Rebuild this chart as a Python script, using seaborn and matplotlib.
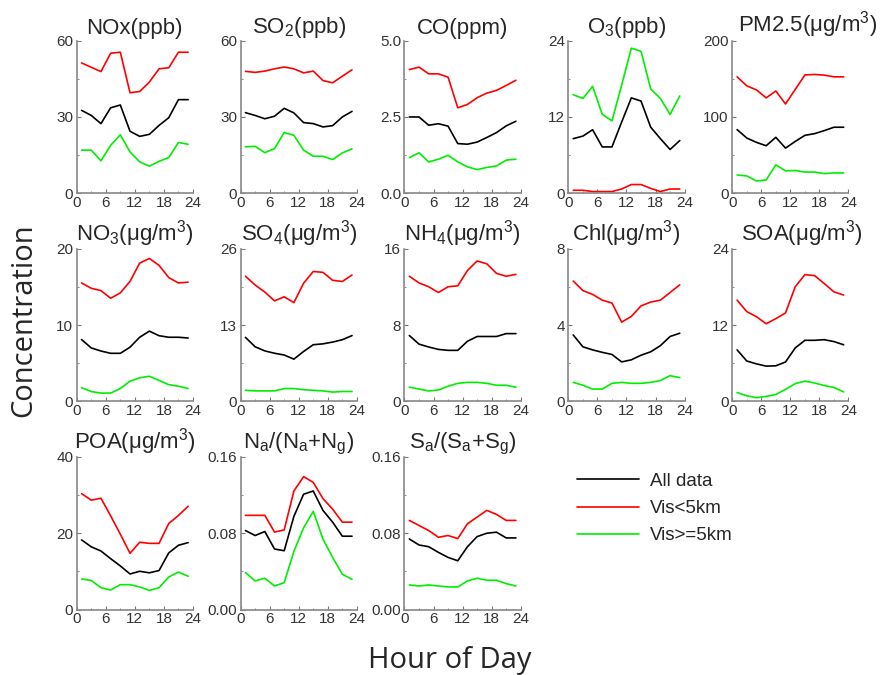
import matplotlib
matplotlib.use('Agg')
import matplotlib.pyplot as plt
import numpy as np
import pandas as pd
import seaborn as sns

# hours of day (2-hourly bins)
hours = [1, 3, 5, 7, 9, 11, 13, 15, 17, 19, 21, 23]
groups = ['All data', 'Vis<5km', 'Vis>=5km']

titles = ['NOx(ppb)', 'SO$_2$(ppb)', 'CO(ppm)', 'O$_3$(ppb)', 'PM2.5(μg/m$^3$)',
          'NO$_3$(μg/m$^3$)', 'SO$_4$(μg/m$^3$)', 'NH$_4$(μg/m$^3$)', 'Chl(μg/m$^3$)', 'SOA(μg/m$^3$)',
          'POA(μg/m$^3$)', 'N$_a$/(N$_a$+N$_g$)', 'S$_a$/(S$_a$+S$_g$)']
ymax = [60, 60, 5.0, 24, 200, 20, 26, 16, 8, 24, 40, 0.16, 0.16]
ytick_fmt = ['%d', '%d', '%.1f', '%d', '%d', '%d', '%d', '%d', '%d', '%d', '%d', '%.2f', '%.2f']

# All data / Vis<5km / Vis>=5km for each species
nox_all = [32.6, 30.6, 27.4, 33.6, 34.7, 24.4, 22.4, 23.2, 26.7, 29.7, 36.8, 36.8]
nox_low = [51.2, 49.5, 47.8, 55.0, 55.4, 39.5, 40.0, 43.7, 48.9, 49.3, 55.4, 55.4]
nox_high = [17.0, 17.0, 12.8, 18.9, 23.0, 16.3, 12.4, 10.7, 12.6, 14.1, 20.0, 19.3]

so2_all = [31.7, 30.6, 29.3, 30.3, 33.4, 31.6, 27.8, 27.4, 26.1, 26.6, 30.0, 32.2]
so2_low = [47.9, 47.5, 48.0, 48.9, 49.6, 48.9, 47.3, 48.0, 44.3, 43.4, 46.0, 48.5]
so2_high = [18.3, 18.5, 16.0, 17.6, 23.9, 22.8, 17.0, 14.6, 14.6, 13.3, 15.9, 17.5]

co_all = [2.50, 2.50, 2.23, 2.28, 2.20, 1.63, 1.61, 1.68, 1.83, 1.99, 2.21, 2.36]
co_low = [4.05, 4.13, 3.91, 3.91, 3.80, 2.80, 2.91, 3.13, 3.28, 3.37, 3.53, 3.70]
co_high = [1.17, 1.33, 1.03, 1.12, 1.25, 1.03, 0.87, 0.78, 0.85, 0.90, 1.09, 1.12]

o3_all = [8.6, 9.0, 10.0, 7.3, 7.3, 11.2, 15.0, 14.5, 10.4, 8.6, 6.9, 8.3]
o3_low = [0.5, 0.5, 0.3, 0.3, 0.3, 0.7, 1.4, 1.4, 0.8, 0.3, 0.7, 0.7]
o3_high = [15.5, 14.9, 16.8, 12.4, 11.4, 17.0, 22.8, 22.3, 16.4, 14.9, 12.4, 15.3]

pm_all = [83.5, 72.5, 66.8, 62.4, 73.4, 59.3, 68.0, 76.0, 78.2, 82.2, 86.6, 86.6]
pm_low = [152.5, 140.7, 135.4, 125.0, 134.0, 117.0, 136.0, 155.0, 155.6, 154.7, 152.5, 152.5]
pm_high = [24.2, 22.9, 16.3, 17.6, 37.4, 29.5, 30.0, 28.0, 28.0, 26.0, 26.8, 26.8]

no3_all = [8.1, 7.0, 6.6, 6.3, 6.3, 7.1, 8.4, 9.2, 8.6, 8.4, 8.4, 8.3]
no3_low = [15.5, 14.8, 14.5, 13.5, 14.2, 15.7, 18.1, 18.7, 17.8, 16.2, 15.5, 15.6]
no3_high = [1.8, 1.3, 1.1, 1.1, 1.7, 2.65, 3.1, 3.3, 2.75, 2.2, 2.0, 1.7]

so4_all = [10.9, 9.3, 8.6, 8.2, 7.9, 7.2, 8.5, 9.65, 9.8, 10.1, 10.5, 11.2]
so4_low = [21.3, 19.8, 18.6, 17.1, 17.8, 16.8, 20.1, 22.1, 21.95, 20.6, 20.4, 21.5]
so4_high = [1.9, 1.8, 1.8, 1.8, 2.2, 2.2, 2.0, 1.9, 1.8, 1.6, 1.7, 1.7]

nh4_all = [6.9, 6.0, 5.7, 5.45, 5.35, 5.35, 6.3, 6.8, 6.8, 6.8, 7.1, 7.1]
nh4_low = [13.1, 12.4, 12.0, 11.4, 12.0, 12.1, 13.7, 14.7, 14.4, 13.4, 13.1, 13.3]
nh4_high = [1.5, 1.3, 1.1, 1.2, 1.6, 1.9, 2.0, 2.0, 1.9, 1.7, 1.7, 1.5]

chl_all = [3.48, 2.86, 2.70, 2.57, 2.46, 2.07, 2.18, 2.42, 2.60, 2.92, 3.40, 3.57]
chl_low = [6.3, 5.8, 5.6, 5.3, 5.15, 4.15, 4.45, 5.0, 5.2, 5.3, 5.7, 6.1]
chl_high = [1.0, 0.85, 0.65, 0.65, 0.95, 1.0, 0.95, 0.95, 1.0, 1.1, 1.35, 1.25]

soa_all = [8.1, 6.35, 5.9, 5.55, 5.6, 6.2, 8.4, 9.6, 9.6, 9.7, 9.4, 8.9]
soa_low = [15.9, 14.1, 13.3, 12.2, 13.0, 13.9, 18.0, 19.9, 19.75, 18.5, 17.2, 16.7]
soa_high = [1.4, 0.9, 0.6, 0.8, 1.1, 1.9, 2.8, 3.2, 2.9, 2.5, 2.2, 1.5]

poa_all = [18.2, 16.4, 15.3, 13.3, 11.4, 9.3, 10.0, 9.6, 10.2, 14.8, 16.8, 17.5]
poa_low = [30.3, 28.6, 29.1, 24.5, 19.7, 14.7, 17.6, 17.3, 17.3, 22.5, 24.6, 27.0]
poa_high = [8.0, 7.6, 5.7, 5.1, 6.5, 6.5, 5.9, 5.0, 5.7, 8.5, 9.8, 8.7]

na_all = [0.0826, 0.0774, 0.0816, 0.0633, 0.0615, 0.0974, 0.1206, 0.124, 0.1037, 0.0914, 0.0767, 0.0767]
na_low = [0.0985, 0.0985, 0.0985, 0.081, 0.0833, 0.124, 0.139, 0.133, 0.116, 0.105, 0.0914, 0.0914]
na_high = [0.0387, 0.0299, 0.0327, 0.0246, 0.0281, 0.0608, 0.0854, 0.1027, 0.0738, 0.0545, 0.0369, 0.0316]

sa_all = [0.0738, 0.0675, 0.0657, 0.0598, 0.0545, 0.051, 0.0657, 0.0763, 0.0798, 0.0809, 0.0749, 0.0749]
sa_low = [0.0932, 0.0879, 0.0826, 0.0756, 0.0774, 0.0742, 0.0897, 0.0967, 0.1037, 0.0995, 0.0932, 0.0932]
sa_high = [0.0257, 0.0246, 0.0257, 0.0246, 0.0236, 0.0236, 0.0299, 0.0327, 0.0306, 0.0306, 0.0271, 0.0246]

series = [(nox_all, nox_low, nox_high), (so2_all, so2_low, so2_high), (co_all, co_low, co_high),
          (o3_all, o3_low, o3_high), (pm_all, pm_low, pm_high), (no3_all, no3_low, no3_high),
          (so4_all, so4_low, so4_high), (nh4_all, nh4_low, nh4_high), (chl_all, chl_low, chl_high),
          (soa_all, soa_low, soa_high), (poa_all, poa_low, poa_high), (na_all, na_low, na_high),
          (sa_all, sa_low, sa_high)]

sns.set_style('ticks')
plt.rcParams['font.family'] = ['Liberation Sans', 'DejaVu Sans']
plt.rcParams['mathtext.default'] = 'regular'
palette = {'All data': '#000000', 'Vis<5km': '#ff0000', 'Vis>=5km': '#00ee00'}

fig, axes = plt.subplots(3, 5, figsize=(8.82, 6.75), dpi=100)
fig.subplots_adjust(left=0.087, right=0.962, top=0.94, bottom=0.097, wspace=0.41, hspace=0.36)

# titles of the right column sit a bit to the right of the axes centre
title_x = {4: 0.65, 9: 0.6}

for i, ax in enumerate(axes.flat):
    if i >= len(series):
        ax.axis('off')
        continue
    rows = []
    for g, vals in zip(groups, series[i]):
        for h, v in zip(hours, vals):
            rows.append({'hour': h, 'value': v, 'group': g})
    df = pd.DataFrame(rows)
    sns.lineplot(data=df, x='hour', y='value', hue='group', palette=palette,
                 linewidth=1.2, ax=ax, legend=False)
    ax.set_xlim(0, 24)
    ax.set_ylim(0, ymax[i])
    ax.set_xticks([0, 6, 12, 18, 24])
    ax.set_xticks([3, 9, 15, 21], minor=True)
    ax.set_yticks([0, ymax[i] / 2, ymax[i]])
    ax.set_yticks([ymax[i] / 4, ymax[i] * 3 / 4], minor=True)
    ax.yaxis.set_major_formatter(matplotlib.ticker.FormatStrFormatter(ytick_fmt[i]))
    ax.tick_params(which='both', direction='in', colors='#777777', labelcolor='#333333',
                   labelsize=11)
    ax.tick_params(axis='x', pad=1.5)
    ax.tick_params(axis='y', pad=2.5)
    ax.tick_params(which='major', length=3)
    ax.tick_params(which='minor', length=1.5)
    for s in ['left', 'bottom']:
        ax.spines[s].set_color('#888888')
        ax.spines[s].set_linewidth(1.2)
    sns.despine(ax=ax)
    ax.set_xlabel('')
    ax.set_ylabel('')
    ax.set_title(titles[i], fontsize=16, pad=5, x=title_x.get(i, 0.5))

handles = [matplotlib.lines.Line2D([], [], color=palette[g], linewidth=1.2) for g in groups]
fig.legend(handles, groups, loc='upper left', bbox_to_anchor=(0.635, 0.325), frameon=False,
           fontsize=13.5, handlelength=3.3, labelspacing=0.55, handletextpad=0.6)

fig.text(0.027, 0.525, 'Concentration', rotation=90, fontsize=21, va='center', ha='center',
         family=['Open Sans', 'DejaVu Sans'])
fig.text(0.51, 0.022, 'Hour of Day', fontsize=21, va='center', ha='center',
         family=['Open Sans', 'DejaVu Sans'])

fig.savefig('out.png', dpi=100)
